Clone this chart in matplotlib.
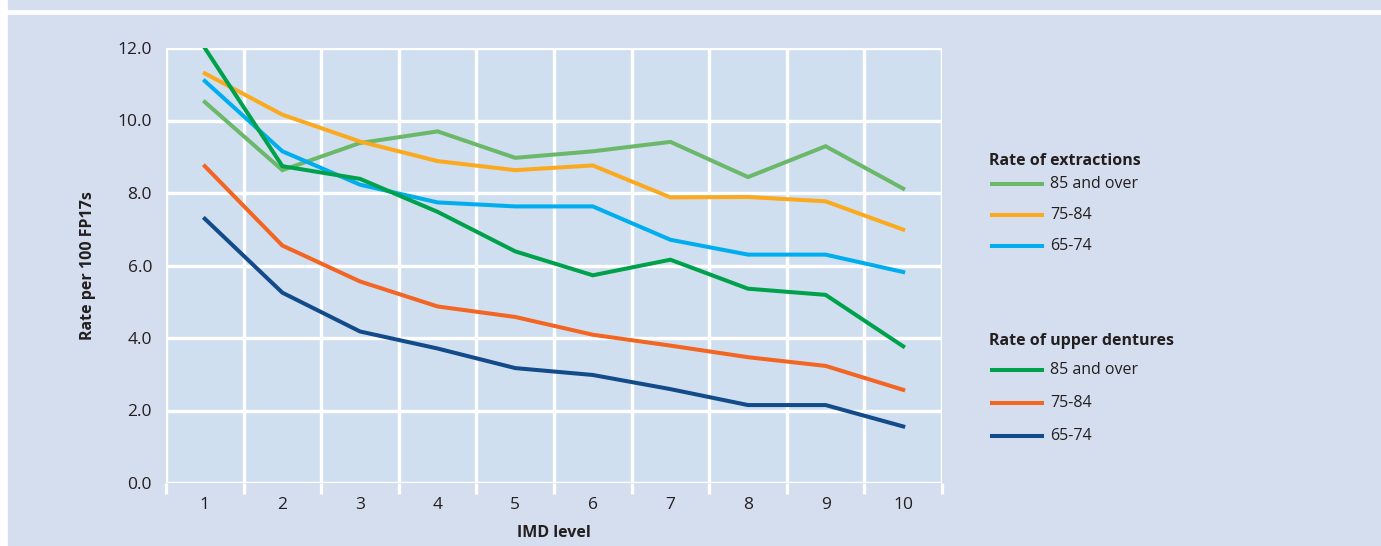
"""
Extraction and upper denture rates per 100 FP17s across IMD levels, by age band.
"""
import matplotlib.pyplot as plt
from matplotlib.lines import Line2D
from matplotlib.patches import Rectangle

IMD_LEVELS = [1, 2, 3, 4, 5, 6, 7, 8, 9, 10]

# rate of extractions
EXT_85_PLUS = [10.51, 8.63, 9.38, 9.70, 8.97, 9.15, 9.41, 8.44, 9.29, 8.12]
EXT_75_84   = [11.30, 10.16, 9.42, 8.88, 8.63, 8.76, 7.88, 7.89, 7.77, 6.99]
EXT_65_74   = [11.09, 9.15, 8.23, 7.74, 7.63, 7.63, 6.71, 6.30, 6.30, 5.82]

# rate of upper dentures
UD_85_PLUS  = [12.00, 8.74, 8.39, 7.48, 6.39, 5.73, 6.16, 5.36, 5.19, 3.77]
UD_75_84    = [8.74, 6.55, 5.56, 4.87, 4.58, 4.09, 3.79, 3.47, 3.23, 2.57]
UD_65_74    = [7.29, 5.25, 4.18, 3.71, 3.17, 2.98, 2.59, 2.15, 2.15, 1.56]

AGE_LABELS = ['85 and over', '75-84', '65-74']
GROUP_TITLES = ['Rate of extractions', 'Rate of upper dentures']

PANEL_BG = '#D5DEEE'
PLOT_BG  = '#CFDFEF'
TEXT_COL = '#231F20'
EXT_COLS = ['#6CB86A', '#FBAA1F', '#00AEEF']
UD_COLS  = ['#00A14B', '#F26522', '#134A8A']
LW = 2.9

plt.rcParams['font.family'] = ['Open Sans', 'DejaVu Sans']

W, H = 1381, 546


def px(x, y):
    """pixel position (from top-left) -> figure fraction"""
    return x / W, 1 - y / H


def draw_key(fig, title, colors, title_y, row_ys):
    fig.text(*px(989, title_y), title, fontsize=11.5, fontweight='bold',
             color=TEXT_COL, ha='left', va='center')
    for c, lab, y in zip(colors, AGE_LABELS, row_ys):
        x0, yy = px(992, y)
        x1, _ = px(1042, y)
        fig.add_artist(Line2D([x0, x1], [yy, yy], color=c, lw=LW,
                              transform=fig.transFigure))
        fig.text(*px(1050, y), lab, fontsize=11.5, color=TEXT_COL,
                 ha='left', va='center')


def main():
    fig = plt.figure(figsize=(W / 100, H / 100), dpi=100)

    # background panel and header strip
    fig.patches.append(Rectangle((8 / W, 0), 1 - 8 / W, (H - 15) / H,
                                 transform=fig.transFigure, color=PANEL_BG, zorder=-10))
    fig.patches.append(Rectangle((8 / W, (H - 9) / H), 1 - 8 / W, 9 / H,
                                 transform=fig.transFigure, color=PANEL_BG, zorder=-10))

    ax = fig.add_axes([166 / W, 1 - 483 / H, 776 / W, 435 / H])
    ax.set_facecolor(PLOT_BG)

    for ys, c in zip([EXT_85_PLUS, EXT_75_84, EXT_65_74], EXT_COLS):
        ax.plot(IMD_LEVELS, ys, color=c, lw=LW, solid_joinstyle='miter', zorder=3)
    for ys, c in zip([UD_85_PLUS, UD_75_84, UD_65_74], UD_COLS):
        ax.plot(IMD_LEVELS, ys, color=c, lw=LW, solid_joinstyle='miter', zorder=3)

    ax.set_xlim(0.5, 10.5)
    ax.set_ylim(0, 12)
    ax.set_xticks(IMD_LEVELS)
    ax.set_xticks([i + 0.5 for i in range(0, 11)], minor=True)
    ax.set_yticks(range(0, 13, 2))
    ax.set_yticklabels([f'{v:.1f}' for v in range(0, 13, 2)])

    ax.grid(which='minor', axis='x', color='white', lw=2.4, zorder=1)
    ax.grid(which='major', axis='y', color='white', lw=2.4, zorder=1)
    ax.set_axisbelow(True)
    for s in ax.spines.values():
        s.set_visible(False)

    ax.tick_params(axis='x', which='minor', length=8, width=2.4, color='white', direction='out')
    ax.tick_params(axis='x', which='major', length=0, pad=10, labelsize=12.5, labelcolor=TEXT_COL)
    ax.tick_params(axis='y', which='both', length=0, pad=10, labelsize=12.5, labelcolor=TEXT_COL)
    for lab in ax.get_yticklabels():
        lab.set_y(lab.get_position()[1])
        lab.set_verticalalignment('center_baseline')

    ax.set_xlabel('IMD level', fontsize=11.5, fontweight='bold', color=TEXT_COL, va='top')
    ax.xaxis.set_label_coords(0.5, -0.096)
    ax.set_ylabel('Rate per 100 FP17s', fontsize=11.5, fontweight='bold', color=TEXT_COL)
    ax.yaxis.set_label_coords(-0.09, 0.5)

    draw_key(fig, GROUP_TITLES[0], EXT_COLS, 161, [184, 215, 246])
    draw_key(fig, GROUP_TITLES[1], UD_COLS, 341, [370, 403, 436])

    fig.savefig('out.png', dpi=100, facecolor='white')
    plt.close(fig)


if __name__ == '__main__':
    main()
